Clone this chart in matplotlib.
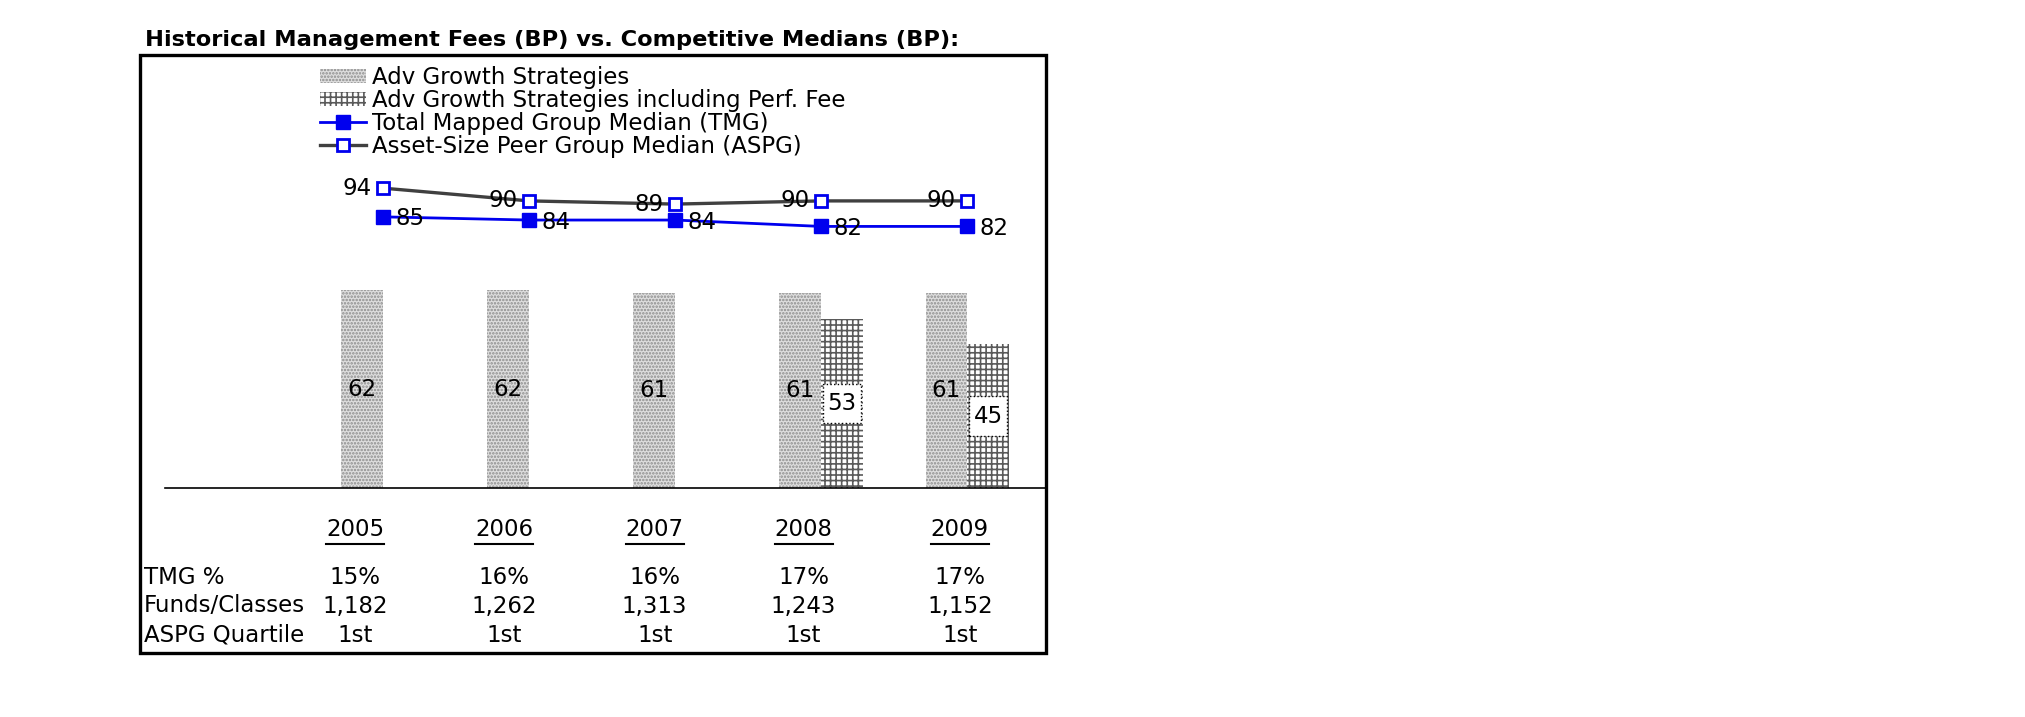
import numpy as np
import matplotlib
matplotlib.use("Agg")
import matplotlib.pyplot as plt
from matplotlib.patches import Patch, Rectangle
from matplotlib.lines import Line2D

# ---------------- data ----------------
years = ["2005", "2006", "2007", "2008", "2009"]
adv_growth = [62, 62, 61, 61, 61]
adv_growth_perf = [np.nan, np.nan, np.nan, 53, 45]
tmg_median = [85, 84, 84, 82, 82]
aspg_median = [94, 90, 89, 90, 90]
tmg_pct = ["15%", "16%", "16%", "17%", "17%"]
funds_classes = ["1,182", "1,262", "1,313", "1,243", "1,152"]
aspg_quartile = ["1st", "1st", "1st", "1st", "1st"]
row_labels = ["TMG %", "Funds/Classes", "ASPG Quartile"]
title = "Historical Management Fees (BP) vs. Competitive Medians (BP):"
legend_labels = ["Adv Growth Strategies",
                 "Adv Growth Strategies including Perf. Fee",
                 "Total Mapped Group Median (TMG)",
                 "Asset-Size Peer Group Median (ASPG)"]

# ---------------- layout ----------------
W, H = 2025, 717
plt.rcParams['font.family'] = ['DejaVu Sans']
plt.rcParams['hatch.linewidth'] = 1.2
fig = plt.figure(figsize=(W / 100, H / 100), dpi=100)

def fx(x):
    return x / W

def fy(y):
    return 1 - y / H

ax_left, ax_right, ax_top, ax_base = 165, 1046, 54, 488
ax = fig.add_axes([fx(ax_left), fy(ax_base), (ax_right - ax_left) / W, (ax_base - ax_top) / H])
ax.set_xlim(-1.493, 4.54)
ax.set_ylim(0, (ax_base - ax_top) / 3.19)
for s in ["top", "left", "right"]:
    ax.spines[s].set_visible(False)
ax.spines["bottom"].set_linewidth(1.2)
ax.set_xticks([])
ax.set_yticks([])
ax.patch.set_alpha(0)

x = np.arange(len(years))
w = 0.285
light_kw = dict(facecolor="#dedede", edgecolor="#8c8c8c", hatch=".....", linewidth=0)
grid_kw = dict(facecolor="white", edgecolor="#5a5a5a", hatch="+++", linewidth=0)

ax.bar(x - w / 2, adv_growth, w, **light_kw, zorder=2)
perf = np.array(adv_growth_perf, dtype=float)
ax.bar(x + w / 2, np.nan_to_num(perf), w, **grid_kw, zorder=2)

lab_fs = 16.5
for xi, v in zip(x, adv_growth):
    ax.text(xi - w / 2, v / 2, f"{v}", ha="center", va="center", fontsize=lab_fs, zorder=5)
box_h = 12.5
for xi, v in zip(x, perf):
    if not np.isnan(v):
        ax.add_patch(Rectangle((xi + 0.01, v / 2 - box_h / 2), w - 0.02, box_h,
                               facecolor="white", edgecolor="black", linestyle=":",
                               linewidth=1.0, zorder=4))
        ax.text(xi + w / 2, v / 2, f"{int(v)}", ha="center", va="center", fontsize=lab_fs, zorder=5)

ax.plot(x, aspg_median, color="#404040", lw=2.4, marker="s", ms=9, mfc="white",
        mec="#0000ee", mew=2, zorder=3)
ax.plot(x, tmg_median, color="#0000ee", lw=2.0, marker="s", ms=10, mfc="#0000ee",
        mec="#0000ee", zorder=4)

for xi, v in zip(x, aspg_median):
    ax.annotate(f"{v}", (xi, v), xytext=(-8, 0), textcoords="offset points",
                ha="right", va="center", fontsize=lab_fs, zorder=6)
for xi, v in zip(x, tmg_median):
    ax.annotate(f"{v}", (xi, v), xytext=(9, -1.5), textcoords="offset points",
                ha="left", va="center", fontsize=lab_fs, zorder=6)

# legend
handles = [Patch(**light_kw),
           Patch(**grid_kw),
           Line2D([], [], color="#0000ee", lw=2.0, marker="s", ms=10, mfc="#0000ee", mec="#0000ee"),
           Line2D([], [], color="#404040", lw=2.4, marker="s", ms=9, mfc="white", mec="#0000ee", mew=2)]
leg = fig.legend(handles, legend_labels, loc="upper left",
                 bbox_to_anchor=(fx(320), fy(66)), bbox_transform=fig.transFigure,
                 frameon=False, fontsize=16.5, borderpad=0, borderaxespad=0,
                 handlelength=2.0, handleheight=0.58, handletextpad=0.25, labelspacing=0.0)

# title
fig.text(fx(145), fy(40), title, fontsize=16.2, fontweight="bold", ha="left", va="center")

# outer box
fig.patches.append(Rectangle((fx(140), fy(653)), (1046 - 140) / W, (653 - 55) / H,
                             transform=fig.transFigure, fill=False, edgecolor="black",
                             linewidth=2.4, zorder=10))

# table below
col_x = [-0.19, 0.83, 1.86, 2.88, 3.95]
tbl_fs = 16.5
year_texts = []
for cx, yr in zip(col_x, years):
    xpix = ax.transData.transform((cx, 0))[0]
    t = fig.text(xpix / W, fy(530), yr, fontsize=tbl_fs, ha="center", va="center")
    year_texts.append(t)

rows = [tmg_pct, funds_classes, aspg_quartile]
row_y = [577, 606, 635]
for lab, vals, ry in zip(row_labels, rows, row_y):
    fig.text(fx(144), fy(ry), lab, fontsize=tbl_fs, ha="left", va="center")
    for cx, v in zip(col_x, vals):
        xpix = ax.transData.transform((cx, 0))[0]
        fig.text(xpix / W, fy(ry), v, fontsize=tbl_fs, ha="center", va="center")

# underline years
fig.canvas.draw()
r = fig.canvas.get_renderer()
for t in year_texts:
    bb = t.get_window_extent(renderer=r)
    fig.add_artist(Line2D([bb.x0 / W, bb.x1 / W], [fy(544), fy(544)],
                          transform=fig.transFigure, color="black", lw=1.5))

fig.savefig("out.png", dpi=100, facecolor="white")
